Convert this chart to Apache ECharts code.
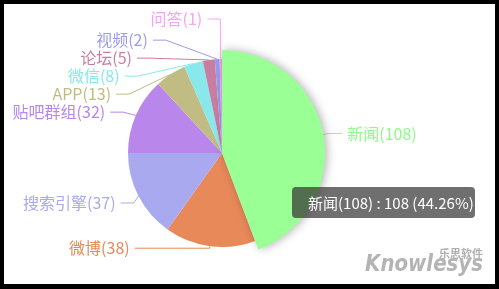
<!DOCTYPE html>
<html><head><meta charset="utf-8">
<script src="https://cdn.jsdelivr.net/npm/echarts@6/dist/echarts.min.js"></script>
<style>
html,body{margin:0;padding:0;background:#000;width:499px;height:289px;overflow:hidden;}
#c{position:absolute;left:4px;top:4px;width:491px;height:280px;background:#fff;}
</style></head>
<body><div id="c"></div>
<script>
const categories = ['新闻','微博','搜索引擎','贴吧群组','APP','微信','论坛','视频','问答'];
const values = [108,38,37,32,13,8,5,2,1];
const palette = ['#8cfc88','#e8895a','#a9a9f0','#b986ec','#c0bc84','#88e8ec','#c87ea0','#9c9cf0','#f4a4f4'];

const chart = echarts.init(document.getElementById('c'), null, {renderer:'canvas'});
const FONT = '"Microsoft YaHei","Noto Sans CJK SC",sans-serif';
const data = categories.map((c,i)=>({name:c+'('+values[i]+')', value:values[i]}));
// leader-line styling per item (long leaders for a few labels, as in the original)
data[1].labelLine = {length:2, length2:75};
data[7].labelLine = {length:19};
data[8].labelLine = {length:40};
chart.setOption({
  animation:false,
  color: palette,
  tooltip:{
    trigger:'item', triggerOn:'none', alwaysShowContent:true,
    formatter:'{b} : {c} ({d}%)',
    backgroundColor:'rgba(50,50,50,0.7)', borderWidth:0, borderRadius:4,
    padding:[5,5,5,16], position:[288,183], transitionDuration:0,
    textStyle:{color:'#fff', fontSize:15, fontFamily:FONT},
    extraCssText:'box-shadow:none;width:162px;white-space:nowrap;line-height:21px;'
  },
  graphic:[
    {type:'text', x:479, y:255, style:{text:'乐思软件', x:0, y:0, align:'right', verticalAlign:'bottom', fill:'#b0b0b0', font:'bold 11px "Noto Sans CJK SC"'}},
    {type:'text', x:479, y:273, scaleX:0.86, style:{text:'Knowlesys', x:0, y:0, align:'right', verticalAlign:'bottom', fill:'#b4b4b4', font:'italic bold 23px "DejaVu Sans"'}}
  ],
  series:[{
    type:'pie', center:[218,149], radius:94, startAngle:90, clockwise:true,
    avoidLabelOverlap:true,
    label:{show:true, position:'outside', color:'inherit', fontSize:16, fontFamily:FONT, bleedMargin:0, overflow:'none'},
    labelLine:{show:true, length:15, length2:13, smooth:false, lineStyle:{width:1}},
    itemStyle:{borderWidth:0},
    emphasis:{scale:true, scaleSize:9, focus:'none',
      label:{show:true, fontSize:16, fontWeight:'normal'},
      itemStyle:{shadowBlur:10, shadowOffsetX:2, shadowColor:'rgba(0,0,0,0.3)'}},
    data: data
  }]
});
chart.dispatchAction({type:'highlight', seriesIndex:0, dataIndex:0});
chart.dispatchAction({type:'showTip', seriesIndex:0, dataIndex:0});
</script></body></html>
